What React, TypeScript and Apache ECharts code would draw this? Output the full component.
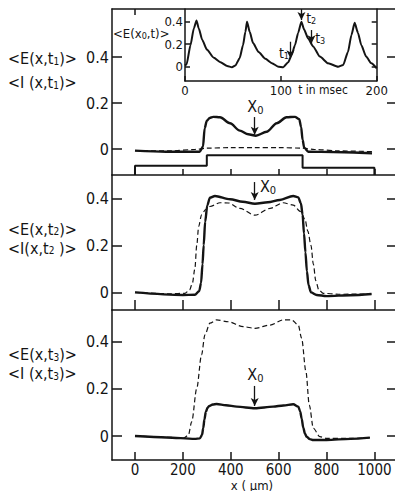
import React, { useEffect, useRef } from "react";
import * as echarts from "echarts";

// ---- ticks ----
const X_TICKS = [0, 200, 400, 600, 800, 1000];
const Y_TICKS = [0, 0.2, 0.4];
const T_TICKS = [0, 100, 200];

// ---- panel 1 (t1) ----
const E1_X = [0, 130, 270, 284, 291, 300, 312, 327, 355, 397, 438, 473, 505, 550, 592, 633, 668, 686, 694, 700, 707, 724, 828, 990];
const E1_V = [-0.007, -0.012, -0.012, 0.01, 0.09, 0.123, 0.135, 0.14, 0.138, 0.112, 0.08, 0.064, 0.058, 0.075, 0.112, 0.138, 0.14, 0.13, 0.095, 0.04, 0.005, -0.012, -0.013, -0.019];
const I1_X = [0, 150, 250, 300, 400, 500, 600, 700, 750, 850, 1000];
const I1_V = [-0.007, -0.008, -0.002, 0.004, 0.006, 0.006, 0.006, 0.004, -0.002, -0.008, -0.012];
const STIM_X = [0, 0, 300, 300, 700, 700, 1000, 1000];
const STIM_V = [-0.113, -0.073, -0.073, -0.027, -0.027, -0.081, -0.081, -0.113];

// ---- panel 2 (t2) ----
const E2_X = [0, 200, 250, 268, 276, 282, 287, 293, 302, 313, 334, 397, 450, 501, 555, 605, 661, 682, 693, 700, 706, 712, 718, 725, 735, 759, 800, 900, 988];
const E2_V = [0, -0.011, -0.01, 0.005, 0.04, 0.12, 0.2, 0.3, 0.37, 0.402, 0.41, 0.396, 0.385, 0.377, 0.383, 0.393, 0.41, 0.404, 0.379, 0.33, 0.25, 0.17, 0.09, 0.03, 0.0, -0.011, -0.016, -0.012, -0.007];
const I2_X = [0, 150, 209, 228, 240, 250, 258, 266, 278, 295, 313, 355, 390, 438, 501, 564, 619, 661, 692, 710, 722, 735, 745, 755, 768, 786, 850, 988];
const I2_V = [0, -0.006, -0.004, 0.01, 0.04, 0.1, 0.2, 0.28, 0.33, 0.352, 0.365, 0.381, 0.38, 0.357, 0.328, 0.357, 0.381, 0.371, 0.343, 0.31, 0.26, 0.2, 0.12, 0.05, 0.01, -0.004, -0.008, -0.007];

// ---- panel 3 (t3) ----
const E3_X = [0, 132, 250, 271, 280, 285, 290, 296, 303, 310, 325, 341, 380, 425, 501, 577, 620, 661, 682, 690, 696, 703, 710, 717, 730, 745, 800, 900, 981];
const E3_V = [0, -0.006, -0.012, -0.01, 0.005, 0.033, 0.07, 0.103, 0.12, 0.128, 0.134, 0.136, 0.131, 0.125, 0.118, 0.125, 0.13, 0.135, 0.125, 0.105, 0.075, 0.035, 0.01, -0.003, -0.013, -0.017, -0.017, -0.012, -0.007];
const I3_X = [0, 150, 202, 223, 237, 258, 278, 292, 313, 341, 390, 452, 501, 564, 619, 654, 682, 696, 714, 728, 745, 772, 800, 900, 981];
const I3_V = [0, -0.006, -0.01, 0.004, 0.061, 0.203, 0.345, 0.43, 0.48, 0.494, 0.486, 0.465, 0.458, 0.472, 0.494, 0.494, 0.472, 0.416, 0.274, 0.132, 0.033, -0.003, -0.01, -0.01, -0.007];

// ---- inset <E(x0,t)> ----
const T_VALS = [0, 1.6, 5.7, 9.2, 12, 14.4, 17.9, 23, 30, 37, 44, 49, 52.5, 57, 60.5, 63, 64.7, 67.5, 71, 76.8, 83.8, 90.7, 97.6, 102.5, 107.7, 111, 114.7, 118, 121.5, 124.3, 128.5, 133.7, 140.7, 149.3, 159.7, 165, 170, 173.6, 177, 180.5, 184, 189, 194.4, 200];
const EX0_V = [0.01, 0.02, 0.19, 0.34, 0.41, 0.34, 0.24, 0.15, 0.08, 0.04, 0.006, -0.005, 0.01, 0.075, 0.19, 0.31, 0.4, 0.31, 0.21, 0.13, 0.07, 0.03, 0.0, -0.005, 0.04, 0.1, 0.19, 0.3, 0.4, 0.33, 0.25, 0.18, 0.09, 0.03, 0.0, 0.015, 0.13, 0.28, 0.39, 0.3, 0.19, 0.09, 0.03, -0.015];

// ---- annotations ----
const X0_POS = 500;
const T_MARKS = [110, 121.5, 132];

const FONT = "'Liberation Sans Narrow', 'DejaVu Sans Condensed', 'Liberation Sans', sans-serif";
const INK = "#141414";

const pairs = (xs: number[], vs: number[]) => xs.map((x, i) => [x, vs[i]]);
const fmt = (v: number) => (v === 0 ? "0" : String(v));
const plain = (v: number) => String(v);

export default function App() {
  const ref = useRef<HTMLDivElement>(null);
  useEffect(() => {
    const chart = echarts.init(ref.current!, null, { renderer: "svg" });
    const axisLine = { color: INK, width: 1.5 };

    const xMain = (gridIndex: number, position: string, tickLen: number, tickVals: number[], labels: boolean) => ({
      type: "value", gridIndex, position, min: -96, max: 1086,
      axisLine: { show: true, onZero: false, lineStyle: axisLine },
      axisTick: { show: true, inside: true, length: tickLen, customValues: tickVals, lineStyle: axisLine },
      axisLabel: { show: labels, customValues: X_TICKS, margin: 2, formatter: plain, color: INK, fontFamily: FONT, fontSize: 15 },
      splitLine: { show: false },
    });
    const yMain = (gridIndex: number, min: number, max: number, position: string) => ({
      type: "value", gridIndex, position, min, max,
      axisLine: { show: position === "left", onZero: false, lineStyle: axisLine },
      axisTick: { show: true, inside: true, length: position === "left" ? 10 : 8, customValues: Y_TICKS, lineStyle: axisLine },
      axisLabel: { show: position === "left", customValues: Y_TICKS, margin: 3, formatter: fmt, color: INK, fontFamily: FONT, fontSize: 16 },
      splitLine: { show: false },
    });

    const line = (xs: number[], vs: number[], xi: number, yi: number, dashed: boolean, smooth: any = 0.3) => ({
      type: "line", xAxisIndex: xi, yAxisIndex: yi, data: pairs(xs, vs), showSymbol: false, symbol: "none",
      smooth, smoothMonotone: "x", silent: true, z: dashed ? 2 : 3,
      lineStyle: { color: INK, width: dashed ? 1.2 : 2.4, type: dashed ? [5, 3] : "solid" },
    });
    const arrow = (x: number, y1: number, y2: number) => [
      { coord: [x, y1], symbol: "none" },
      { coord: [x, y2], symbol: "arrow", symbolSize: [6, 8] },
    ];
    const marks = (data: any[]) => ({
      silent: true, animation: false, label: { show: false },
      lineStyle: { color: INK, width: 1.3, type: "solid" }, data,
    });

    const s1 = line(E1_X, E1_V, 0, 0, false);
    (s1 as any).markLine = marks([arrow(X0_POS, 0.139, 0.062)]);
    const s3 = line(E2_X, E2_V, 2, 2, false);
    (s3 as any).markLine = marks([arrow(X0_POS, 0.469, 0.393)]);
    const s5 = line(E3_X, E3_V, 3, 4, false);
    (s5 as any).markLine = marks([arrow(X0_POS, 0.213, 0.128)]);
    const sIn = line(T_VALS, EX0_V, 4, 6, false, 0.2);
    (sIn as any).lineStyle.width = 2;
    (sIn as any).markLine = marks([
      arrow(T_MARKS[0], 0.222, 0.075),
      arrow(T_MARKS[1], 0.513, 0.415),
      arrow(T_MARKS[2], 0.326, 0.208),
    ]);

    const option: any = {
      animation: false,
      backgroundColor: "#fff",
      grid: [
        { left: 112, top: 9, width: 283, height: 166 },
        { left: 112, top: 175, width: 283, height: 135 },
        { left: 112, top: 310, width: 283, height: 150 },
        { left: 185, top: 9, width: 191.7, height: 72 },
      ],
      xAxis: [
        xMain(0, "bottom", 6, X_TICKS, false),
        { ...xMain(0, "top", 6, [0], false) },
        xMain(1, "bottom", 10, X_TICKS, false),
        xMain(2, "bottom", 8, X_TICKS, true),
        {
          type: "value", gridIndex: 3, position: "bottom", min: 0, max: 200,
          axisLine: { show: true, onZero: false, lineStyle: axisLine },
          axisTick: { show: true, inside: true, length: 5, customValues: T_TICKS, lineStyle: axisLine },
          axisLabel: { show: true, customValues: T_TICKS, margin: 3, formatter: plain, color: INK, fontFamily: FONT, fontSize: 13 },
          splitLine: { show: false },
        },
      ],
      yAxis: [
        yMain(0, -0.113, 0.609, "left"),
        yMain(0, -0.113, 0.609, "right"),
        yMain(1, -0.075, 0.499, "left"),
        yMain(1, -0.075, 0.499, "right"),
        yMain(2, -0.102, 0.536, "left"),
        yMain(2, -0.102, 0.536, "right"),
        {
          type: "value", gridIndex: 3, position: "left", min: -0.127, max: 0.513,
          axisLine: { show: true, onZero: false, lineStyle: axisLine },
          axisTick: { show: true, inside: true, length: 5, customValues: Y_TICKS, lineStyle: axisLine },
          axisLabel: { show: true, customValues: Y_TICKS, margin: 2, formatter: fmt, color: INK, fontFamily: FONT, fontSize: 13 },
          splitLine: { show: false },
        },
        {
          type: "value", gridIndex: 3, position: "right", min: -0.127, max: 0.513,
          axisLine: { show: true, onZero: false, lineStyle: axisLine },
          axisTick: { show: true, inside: true, length: 5, customValues: Y_TICKS, lineStyle: axisLine },
          axisLabel: { show: false },
          splitLine: { show: false },
        },
      ],
      series: [
        s1,
        line(I1_X, I1_V, 0, 0, true),
        { ...line(STIM_X, STIM_V, 0, 0, false, false), lineStyle: { color: INK, width: 2 } },
        s3,
        line(I2_X, I2_V, 2, 2, true),
        s5,
        line(I3_X, I3_V, 3, 4, true),
        sIn,
      ],
    };
    chart.setOption(option);

    const P = (si: number, x: number, y: number) => chart.convertToPixel({ seriesIndex: si }, [x, y]) as number[];
    const sub = (fs: number, pad: number) => ({ fontSize: fs, fontFamily: FONT, fill: INK, padding: [pad, 0, 0, 0] });
    const txt = (x: number, y: number, text: string, fs: number, align = "left", subFs = 10, subPad = 6) => ({
      type: "text", x, y, silent: true,
      style: {
        text, fill: INK, fontSize: fs, fontFamily: FONT, align, verticalAlign: "middle",
        rich: { s: sub(subFs, subPad) },
      },
    });

    const a = P(0, 503, 0.183);
    const b = P(3, 522, 0.448);
    const c = P(5, 503, 0.26);
    const t1 = P(7, 108.5, 0.12);
    const t2 = P(7, 126.4, 0.433);
    const t3 = P(7, 135.8, 0.255);

    chart.setOption({
      graphic: [
        txt(8, 58, "<E(x,t{s|1})>", 16),
        txt(8, 82, "<I (x,t{s|1})>", 16),
        txt(8, 229, "<E(x,t{s|2})>", 16, "left", 10, 4),
        txt(8, 248, "<I(x,t{s|2} )>", 16, "left", 10, 4),
        txt(8, 354, "<E(x,t{s|3})>", 16),
        txt(8, 373, "<I (x,t{s|3})>", 16),
        txt(113, 33, "<E(x{s|0},t)>", 13, "left", 9, 6),
        txt(a[0], a[1], "X{s|0}", 16, "center", 11, 8),
        txt(b[0], b[1], "X{s|0}", 16, "left", 11, 8),
        txt(c[0], c[1], "X{s|0}", 16, "center", 11, 8),
        txt(t1[0], t1[1], "t{s|1}", 14, "right", 9, 6),
        txt(t2[0], t2[1], "t{s|2}", 14, "left", 9, 6),
        txt(t3[0], t3[1], "t{s|3}", 14, "left", 9, 6),
        txt(323, 90, "t in msec", 12, "center"),
        txt(252, 485, "x ( μm)", 13, "center"),
      ],
    });

    return () => chart.dispose();
  }, []);
  return <div ref={ref} style={{ position: "fixed", left: 0, top: 0, width: 395, height: 491, background: "#fff" }} />;
}
